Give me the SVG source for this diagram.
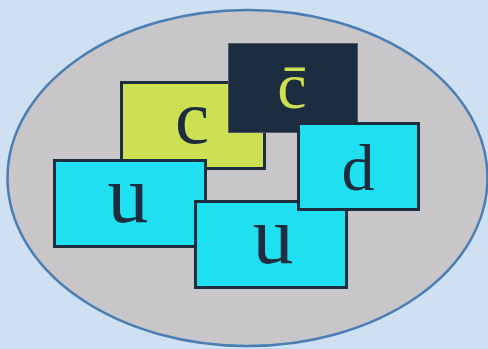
<svg xmlns="http://www.w3.org/2000/svg" width="488" height="349" viewBox="0 0 488 349">
  <style>
    .box { stroke: #1d2d40; stroke-width: 3; }
    .quark { fill: #cddf52; }
    .antiquark { fill: #1d2d40; stroke: #4e5a66; stroke-width: 1; }
    .light { fill: #1ee0f0; }
    .label { text-anchor: middle; fill: #1d2d40; }
    .label.inv { fill: #cddf52; }
  </style>
  <rect width="488" height="349" fill="#cfe0f2"/>
  <ellipse id="hadron" cx="247.5" cy="178" rx="240" ry="168" fill="#c8c6c9" stroke="#4a7db3" stroke-width="2.5"/>
  <g id="nodes" font-family="Liberation Serif, DejaVu Serif, serif">
    <g id="charm">
      <rect class="box quark" x="121.5" y="82.5" width="143" height="86"/>
      <text class="label" x="192" y="143" font-size="77">c</text>
    </g>
    <g id="anticharm">
      <rect class="antiquark" x="228.5" y="43.5" width="129" height="89"/>
      <text class="label inv" x="292" y="108" font-size="66">c̄</text>
    </g>
    <g id="up-left">
      <rect class="box light" x="54.5" y="160.5" width="151" height="86"/>
      <text class="label" x="128" y="222" font-size="82">u</text>
    </g>
    <g id="up-bottom">
      <rect class="box light" x="195.5" y="201.5" width="151" height="86"/>
      <text class="label" x="273" y="263" font-size="82">u</text>
    </g>
    <g id="down">
      <rect class="box light" x="298.5" y="123.5" width="120" height="86"/>
      <text class="label" x="358" y="190" font-size="66">d</text>
    </g>
  </g>
  <g id="connectors"/>
</svg>
